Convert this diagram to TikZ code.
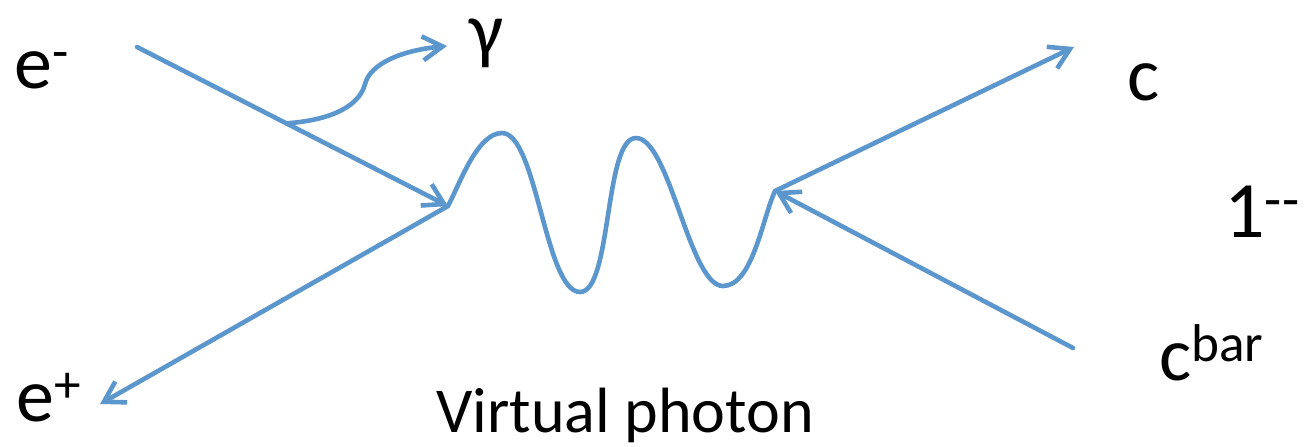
\documentclass[tikz,border=0pt]{standalone}
\usepackage{fontspec}
\setmainfont{Carlito}
\usepackage{tikz}
\usetikzlibrary{arrows.meta,calc}
\definecolor{lineblue}{RGB}{91,150,205}

\begin{document}
\begin{tikzpicture}[
    x=0.5pt, y=-0.5pt,
    prt/.style={draw=lineblue, line width=2.3pt, line cap=round, line join=round},
    lbl/.style={anchor=base west, inner sep=0pt, font=\fontsize{38}{42}\selectfont},
    >={Straight Barb[length=10pt,width=12pt]}
]
\useasboundingbox (0,0) rectangle (1305,446);
% vertices and free ends
\coordinate (vL) at (448,206);
\coordinate (vR) at (775,191);
\coordinate (inEm) at (137,47);
\coordinate (outEp) at (100,404);
\coordinate (outC) at (1074,47);
\coordinate (inCb) at (1073,348);
\coordinate (gStart) at ($(inEm)!0.48!(vL)$);
\coordinate (gMid) at (365,84);
\coordinate (gEnd) at (447,46);
% wave extremes
\coordinate (p1) at (502,133);
\coordinate (t1) at (580,292);
\coordinate (p2) at (636,138);
\coordinate (t2) at (723,286);
% labels
\node[lbl] (em) at (14,88) {e\textsuperscript{-}};
\node[lbl] (gam) at (469,55) {γ};
\node[lbl] (ep) at (16,421) {e\textsuperscript{+}};
\node[lbl] (cq) at (1127,100) {c};
\node[lbl, font=\fontsize{40}{44}\selectfont] (jpc) at (1224,237) {1\textsuperscript{-{}-}};
\node[lbl] (cb) at (1159,380) {c\textsuperscript{bar}};
\node[lbl, font=\fontsize{32}{36}\selectfont] (vp) at (436,432) {Virtual photon};
% lines
\draw[prt, ->] (inEm) -- (vL);
\draw[prt, ->] (vL) -- (outEp);
\draw[prt, ->] (vR) -- (outC);
\draw[prt, ->] (inCb) -- (vR);
\draw[prt, ->] (gStart) .. controls (335,120) and (360,104) .. (gMid)
    .. controls (371,62) and (405,50) .. (gEnd);
\draw[prt] (vL) to[out=62,in=180,looseness=0.7] (p1)
    to[out=0,in=180,looseness=0.5] (t1)
    to[out=0,in=180,looseness=0.5] (p2)
    to[out=0,in=180,looseness=0.5] (t2)
    to[out=0,in=-115,looseness=0.7] (vR);
\end{tikzpicture}
\end{document}
